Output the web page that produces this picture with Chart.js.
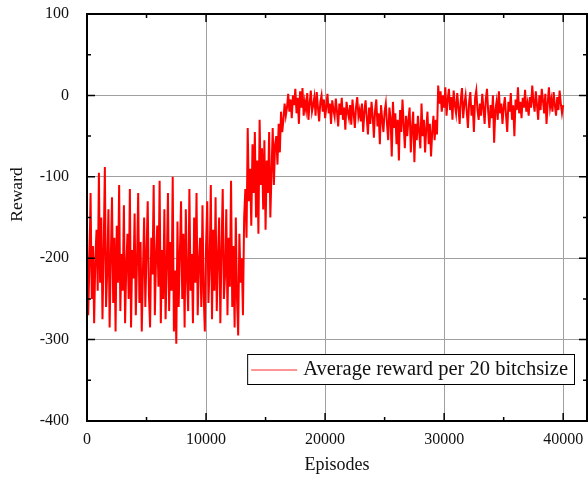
<!DOCTYPE html>
<html>
<head>
<meta charset="utf-8">
<script src="https://cdn.jsdelivr.net/npm/chart.js@4.4.0/dist/chart.umd.min.js"></script>
<style>
  html, body { margin: 0; padding: 0; background: #fff; }
  #wrap { width: 588px; height: 485px; }
</style>
</head>
<body>
<div id="wrap"><canvas id="myChart" width="588" height="485"></canvas></div>
<script>
// reward, one value every 100 episodes (0 .. 40000)
var reward = [
  -160, -270, -210, -120, -250, -185, -280, -200, -165, -240, -95, -230, -150, -275, -190, -88, -260, -215, -140, -285,
  -200, -125, -255, -175, -290, -160, -230, -110, -265, -195, -240, -135, -280, -210, -170, -250, -115, -285, -190, -225,
  -145, -270, -205, -120, -255, -180, -290, -215, -150, -260, -195, -130, -245, -285, -175, -220, -110, -270, -200, -160,
  -235, -105, -280, -190, -250, -140, -275, -210, -120, -265, -180, -240, -100, -290, -215, -305, -155, -260, -195, -130,
  -250, -170, -285, -140, -225, -265, -115, -240, -195, -280, -150, -230, -120, -270, -205, -175, -260, -135, -245, -290,
  -185, -130, -255, -210, -110, -275, -165, -240, -125, -265, -200, -150, -280, -190, -115, -250, -220, -140, -270, -175,
  -235, -105, -260, -185, -285, -150, -250, -295, -170, -230,
  -200, -270, -150, -115, -175, -40, -130, -90, -160, -60, -120, -45, -150, -80, -170, -30, -110, -65, -140, -55,
  -165, -80, -120, -45, -150, -95, -40, -110, -60, -50, -85, -35, -70, -20, -45, -30, -10, -25, -15, 2,
  -20, -5, -28, 0, -12, 8, -22, -3, -35, 5, -15, 9, -25, -8, -18, 3, -30, -10, 6, -20,
  -12, -2, -25, 4, -15, -32, -8, 0, -20, -5, -28, -14, 2, -22, -10, -35, -6, -18, -26, -4,
  -20, -38, -10, -24, -3, -30, -15, -42, -8, -20, -28, -12, -36, -5, -22, -40, -14, -2, -26, -18,
  -32, -10, -45, -20, -6, -28, -48, -15, -35, -8, -25, -52, -18, -5, -38, -22, -60, -12, -30, -45,
  -20, -10, -35, -55, -15, -28, -75, -8, -40, -22, -60, -30, -80, -18, -45, -5, -35, -65, -25, -50,
  -30, -15, -70, -40, -20, -82, -35, -55, -25, -45, -65, -10, -50, -30, -70, -40, -20, -60, -35, -75,
  -45, -25, -55, -30, -48, 12, -10, 5, -20, 0, -15, 10, -25, -5, 8, -18, -2, -30, 6, -12,
  -22, 3, -15, -35, -5, 9, -28, -10, 0, -20, -40, -8, 4, -25, -12, -45, -3, 6, -18, -30,
  -10, -25, 2, -15, -35, -5, 8, -20, -40, -12, -28, 0, -58, -18, -8, -30, 5, -22, -10, -35,
  -15, -2, -25, -45, -8, -20, 3, -30, -12, -50, -5, -18, 10, -22, -8, -28, -3, -15, 7, -20,
  -10, -25, -2, -15, 12, -8, -20, 5, -12, -30, 0, -18, 8, -6, -22, 2, -35, -10, 10, -15,
  -5, -20, 4, -12, -25, -2, -18, 6, -10, -22, -12
];
var episodeStep = 100;
var episodes = reward.map(function (v, i) { return i * episodeStep; });

var xTicks = [0, 10000, 20000, 30000, 40000];
var xMinor = [5000, 15000, 25000, 35000];
var yTicks = [100, 0, -100, -200, -300, -400];
var yMinor = [50, -50, -150, -250, -350];
var legendLabel = 'Average reward per 20 bitchsize';
var yTitle = 'Reward';

var serif = "'Liberation Serif', 'Times New Roman', serif";

function tickList(major, minor) {
  return major.concat(minor).sort(function (a, b) { return a - b; })
    .map(function (v) { return { value: v }; });
}

// frame, inward ticks on all four sides, y title and the legend inside the plot
var framePlugin = {
  id: 'frame',
  afterDraw: function (chart) {
    var ctx = chart.ctx, a = chart.chartArea;
    var xs = chart.scales.x, ys = chart.scales.y;
    ctx.save();
    ctx.strokeStyle = '#000';
    ctx.lineWidth = 1.5;
    ctx.beginPath();
    xs.ticks.forEach(function (t) {
      var px = xs.getPixelForValue(t.value);
      var len = xTicks.indexOf(t.value) >= 0 ? 8 : 4;
      ctx.moveTo(px, a.bottom); ctx.lineTo(px, a.bottom - len);
      ctx.moveTo(px, a.top); ctx.lineTo(px, a.top + len);
    });
    ys.ticks.forEach(function (t) {
      var py = ys.getPixelForValue(t.value);
      var len = yTicks.indexOf(t.value) >= 0 ? 8 : 4;
      ctx.moveTo(a.left, py); ctx.lineTo(a.left + len, py);
      ctx.moveTo(a.right, py); ctx.lineTo(a.right - len, py);
    });
    ctx.stroke();
    ctx.lineWidth = 2;
    ctx.strokeRect(a.left, a.top, a.right - a.left, a.bottom - a.top);

    // y axis title, sits a little above the middle in the original
    ctx.save();
    ctx.translate(ys.left + 17, (a.top + a.bottom) / 2 - 23);
    ctx.rotate(-Math.PI / 2);
    ctx.font = '17.5px ' + serif;
    ctx.fillStyle = '#111';
    ctx.textAlign = 'center';
    ctx.textBaseline = 'middle';
    ctx.fillText(yTitle, 0, 0);
    ctx.restore();

    // legend
    ctx.font = '20.5px ' + serif;
    var tw = ctx.measureText(legendLabel).width;
    var bw = 56 + tw + 6, bh = 30;
    var bx = a.right - 13 - bw, by = a.bottom - 37 - bh;
    ctx.fillStyle = '#fff';
    ctx.fillRect(bx, by, bw, bh);
    ctx.strokeStyle = '#000';
    ctx.lineWidth = 1;
    ctx.strokeRect(bx + 0.5, by + 0.5, bw, bh);
    ctx.strokeStyle = '#ff7070';
    ctx.lineWidth = 1.5;
    ctx.beginPath();
    ctx.moveTo(bx + 4, by + bh / 2 + 1);
    ctx.lineTo(bx + 50, by + bh / 2 + 1);
    ctx.stroke();
    ctx.fillStyle = '#111';
    ctx.textBaseline = 'middle';
    ctx.fillText(legendLabel, bx + 56, by + bh / 2 + 1);
    ctx.restore();
  }
};

var ctx = document.getElementById('myChart').getContext('2d');
var myChart = new Chart(ctx, {
  type: 'line',
  data: {
    datasets: [{
      label: legendLabel,
      data: episodes.map(function (e, i) { return { x: e, y: reward[i] }; }),
      borderColor: '#ff0000',
      borderWidth: 2,
      pointRadius: 0,
      tension: 0,
      fill: false
    }]
  },
  options: {
    responsive: false,
    animation: false,
    layout: { padding: { top: 14, right: 1, left: 0, bottom: 0 } },
    plugins: { legend: { display: false }, tooltip: { enabled: false } },
    scales: {
      x: {
        type: 'linear',
        min: 0,
        max: 42000,
        afterBuildTicks: function (s) { s.ticks = tickList(xTicks, xMinor); },
        afterFit: function (s) { s.height = 64; s.paddingLeft = 0; s.paddingRight = 0; },
        border: { display: false },
        grid: {
          drawTicks: false,
          lineWidth: 1,
          color: function (c) {
            var v = c.tick.value;
            return (v !== 0 && xTicks.indexOf(v) >= 0) ? '#a0a0a0' : 'rgba(0,0,0,0)';
          }
        },
        ticks: {
          autoSkip: false,
          maxRotation: 0,
          padding: 9,
          color: '#111',
          font: { family: serif, size: 16 },
          callback: function (v) { return xTicks.indexOf(v) >= 0 ? String(v) : ''; }
        },
        title: {
          display: true,
          text: 'Episodes',
          color: '#111',
          font: { family: serif, size: 18 },
          padding: { top: 0, bottom: 9 }
        }
      },
      y: {
        min: -400,
        max: 100,
        afterBuildTicks: function (s) { s.ticks = tickList(yTicks, yMinor); },
        afterFit: function (s) { s.width = 87; s.paddingTop = 0; s.paddingBottom = 0; },
        border: { display: false },
        grid: {
          drawTicks: false,
          lineWidth: 1,
          color: function (c) {
            var v = c.tick.value;
            return (v !== 100 && v !== -400 && yTicks.indexOf(v) >= 0) ? '#a0a0a0' : 'rgba(0,0,0,0)';
          }
        },
        ticks: {
          autoSkip: false,
          padding: 18,
          color: '#111',
          font: { family: serif, size: 16 },
          callback: function (v) { return yTicks.indexOf(v) >= 0 ? String(v) : ''; }
        },
        title: { display: false }
      }
    }
  },
  plugins: [framePlugin]
});
</script>
</body>
</html>
